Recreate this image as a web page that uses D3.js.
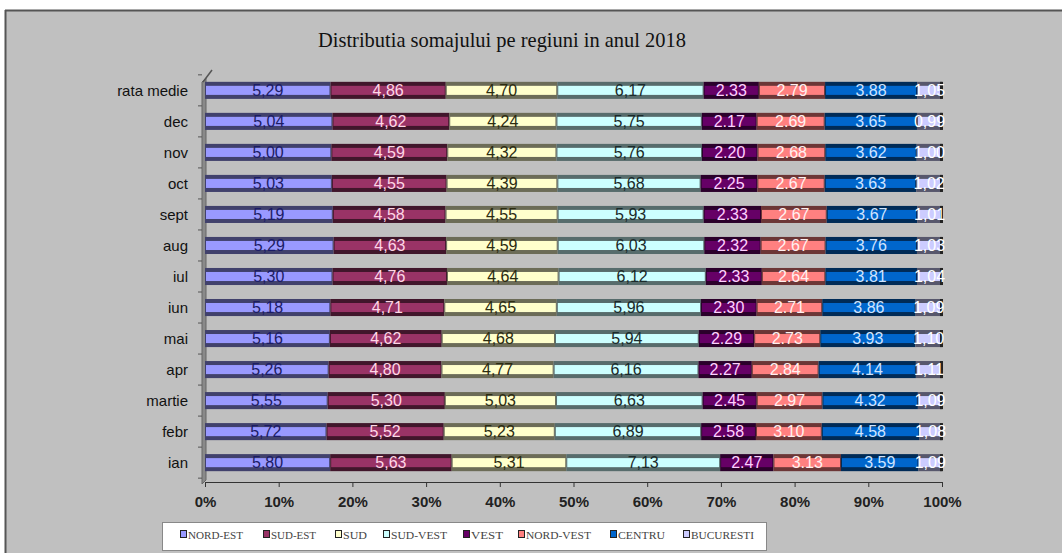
<!DOCTYPE html>
<html><head><meta charset="utf-8">
<script src="https://cdn.jsdelivr.net/npm/d3@7"></script>
<style>body{margin:0;background:#fff}svg{display:block}</style>
</head><body>
<svg id="c" width="1062" height="553"></svg>
<script>
const categories = ["rata medie","dec","nov","oct","sept","aug","iul","iun","mai","apr","martie","febr","ian"];
const regions = ["NORD-EST","SUD-EST","SUD","SUD-VEST","VEST","NORD-VEST","CENTRU","BUCURESTI"];
const nordEst  = [5.29,5.04,5.00,5.03,5.19,5.29,5.30,5.18,5.16,5.26,5.55,5.72,5.80];
const sudEst   = [4.86,4.62,4.59,4.55,4.58,4.63,4.76,4.71,4.62,4.80,5.30,5.52,5.63];
const sud      = [4.70,4.24,4.32,4.39,4.55,4.59,4.64,4.65,4.68,4.77,5.03,5.23,5.31];
const sudVest  = [6.17,5.75,5.76,5.68,5.93,6.03,6.12,5.96,5.94,6.16,6.63,6.89,7.13];
const vest     = [2.33,2.17,2.20,2.25,2.33,2.32,2.33,2.30,2.29,2.27,2.45,2.58,2.47];
const nordVest = [2.79,2.69,2.68,2.67,2.67,2.67,2.64,2.71,2.73,2.84,2.97,3.10,3.13];
const centru   = [3.88,3.65,3.62,3.63,3.67,3.76,3.81,3.86,3.93,4.14,4.32,4.58,3.59];
const bucuresti= [1.05,0.99,1.00,1.02,1.01,1.03,1.04,1.09,1.10,1.11,1.09,1.08,1.09];
const seriesValues = [nordEst,sudEst,sud,sudVest,vest,nordVest,centru,bucuresti];
const decimalSep = [",",",",",",",",".",".",".",","];
const xTicks = [0,0.1,0.2,0.3,0.4,0.5,0.6,0.7,0.8,0.9,1.0];
const title = "Distributia somajului pe regiuni in anul 2018";

const colors = ["#9999FF","#993366","#FFFFCC","#CCFFFF","#660066","#FF8080","#0066CC","#CCCCFF"];
const labelColors = ["#1c1c66","#ffd6e6","#2b2b10","#1a2a2a","#ffd0ff","#fff0f0","#cfe4ff","#ffffff"];

const svg = d3.select("#c");
svg.append("rect").attr("x",5).attr("y",10).attr("width",1070).attr("height",560).attr("fill","#c0c0c0");
svg.append("line").attr("x1",5).attr("x2",1062).attr("y1",10.5).attr("y2",10.5).attr("stroke","#555").attr("stroke-width",2);
svg.append("line").attr("x1",5.5).attr("x2",5.5).attr("y1",10).attr("y2",553).attr("stroke","#555").attr("stroke-width",2);

svg.append("text").attr("x",502).attr("y",47).attr("text-anchor","middle")
  .attr("font-family","Liberation Serif, Times New Roman, serif").attr("font-size",21)
  .attr("fill","#111").attr("textLength",368).attr("lengthAdjust","spacingAndGlyphs").text(title);

const x = d3.scaleLinear().domain([0,1]).range([205,942]);
const y = d3.scaleBand().domain(categories).range([75,478]).paddingInner(0.45).paddingOuter(0.22);
const stepB = y.step();

svg.append("polygon").attr("points","202,82 206,78 206,480 202,484").attr("fill","#8a8a8a").attr("stroke","#666").attr("stroke-width",1);
svg.append("line").attr("x1",203).attr("y1",82).attr("x2",212).attr("y2",70).attr("stroke","#555").attr("stroke-width",1.5);
d3.range(categories.length+1).forEach(i=>{
  const yy = y(categories[0]) - y.paddingInner()*stepB/2 + i*stepB;
  svg.append("line").attr("x1",198).attr("x2",202).attr("y1",yy).attr("y2",yy).attr("stroke","#555");
});

const totals = categories.map((c,i)=>d3.sum(seriesValues,s=>s[i]));
const gBars = svg.append("g");
const gLabels = svg.append("g");
categories.forEach((c,i)=>{
  let cum = 0;
  const by = y(c), bh = y.bandwidth();
  seriesValues.forEach((s,k)=>{
    const f0 = cum/totals[i]; cum += s[i]; const f1 = cum/totals[i];
    const x0 = x(f0), x1 = x(f1);
    const dark = d3.color(colors[k]).darker(2.4);
    gBars.append("rect").attr("x",x0).attr("y",by).attr("width",x1-x0).attr("height",bh).attr("fill",dark);
    gBars.append("rect").attr("x",x0+1).attr("y",by+4).attr("width",Math.max(0,x1-x0-2)).attr("height",bh-8).attr("fill",colors[k]);
    gLabels.append("text").attr("x",(x0+x1)/2).attr("y",by+bh/2+5.5).attr("text-anchor","middle")
      .attr("font-family","Liberation Sans Narrow, Arial Narrow, sans-serif").attr("font-size",16)
      .attr("fill",labelColors[k]).text(s[i].toFixed(2).replace(".",decimalSep[k]));
  });
  gBars.append("rect").attr("x",x(1)-2).attr("y",by).attr("width",3).attr("height",bh).attr("fill","#222");
});

categories.forEach(c=>{
  svg.append("text").attr("x",188).attr("y",y(c)+y.bandwidth()/2+5.5).attr("text-anchor","end")
    .attr("font-family","Liberation Sans, Arial, sans-serif").attr("font-size",15).attr("fill","#111").text(c);
});

const axisY = 482;
const ax = svg.append("g").attr("transform",`translate(0,${axisY})`)
  .call(d3.axisBottom(x).tickValues(xTicks).tickSize(5).tickFormat(d3.format(".0%")));
ax.select(".domain").attr("stroke","#333");
ax.selectAll(".tick line").attr("stroke","#333");
ax.selectAll("text").attr("font-family","Liberation Sans Narrow, Arial Narrow, sans-serif").attr("font-weight","bold")
  .attr("font-size",15).attr("fill","#222").attr("dy","1.1em");

const lg = svg.append("g");
lg.append("rect").attr("x",162.5).attr("y",522.5).attr("width",604).attr("height",28).attr("fill","#fff").attr("stroke","#888");
const legX = [180,263,335,383,463,518,610,683];
const legW = [55,45,24,56,32,65,47,63];
regions.forEach((r,k)=>{
  lg.append("rect").attr("x",legX[k]+0.5).attr("y",530.5).attr("width",6).attr("height",7).attr("fill",colors[k]).attr("stroke","#222");
  lg.append("text").attr("x",legX[k]+8).attr("y",538.5).attr("font-family","Liberation Serif, Times New Roman, serif")
    .attr("font-size",11).attr("fill","#444").attr("textLength",legW[k]).attr("lengthAdjust","spacingAndGlyphs").text(r);
});
</script>
</body></html>
